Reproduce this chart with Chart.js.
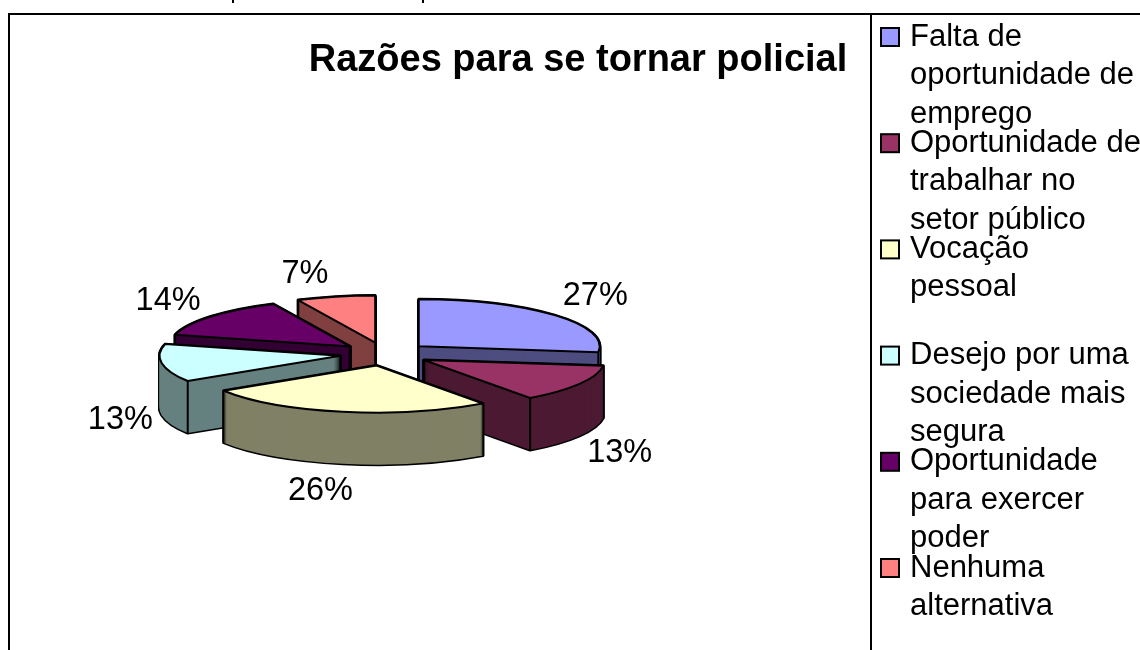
<!DOCTYPE html>
<html><head><meta charset="utf-8">
<style>html,body{margin:0;padding:0;background:#fff;overflow:hidden}#wrap{position:absolute;left:0;top:0;width:1140px;height:650px}</style>
<script src="https://cdn.jsdelivr.net/npm/chart.js@4"></script></head>
<body><div id="wrap"><canvas id="c" width="1140" height="650"></canvas></div>
<script>
const categories = [
  ["Falta de","oportunidade de","emprego"],
  ["Oportunidade de","trabalhar no","setor público"],
  ["Vocação","pessoal"],
  ["Desejo por uma","sociedade mais","segura"],
  ["Oportunidade","para exercer","poder"],
  ["Nenhuma","alternativa"]
];
const values = [27,13,26,13,14,7];
const topColors = ["#9999FF","#993366","#FFFFCC","#CCFFFF","#660066","#FF8080"];
const wallColors = ["#4D4D80","#4D1A33","#808066","#668080","#330033","#804040"];
const drawOrder = [5,4,3,0,1,2];
const titleText = "Razões para se tornar policial";

const CX=385, CY=354, SQ=0.26, DEPTH=52, EXPLODE=45, FONT='"Liberation Sans", Arial, sans-serif';
const labelNudge = [[4,0],[-2,2],[-13,-1],[7,0],[-5,3],[-20,6]];

function withUniformStroke(ctx, fn){
  const s = ctx.stroke;
  ctx.stroke = function(){ const t=this.getTransform(); this.resetTransform(); s.call(this); this.setTransform(t); };
  try{ fn(); } finally { delete ctx.stroke; }
}
const pie3d = {
  id:'pie3d',
  beforeDatasetsDraw(chart){
    const ctx=chart.ctx, meta=chart.getDatasetMeta(0);
    const ca=chart.chartArea, ox=(ca.left+ca.right)/2, oy=(ca.top+ca.bottom)/2;
    const drawAs=(arc,opts)=>{ const o=arc.options; arc.options=Object.assign({},o,opts); arc.draw(ctx); arc.options=o; };
    ctx.save();
    withUniformStroke(ctx,()=>{
      drawOrder.forEach(i=>{
        const arc=meta.data[i];
        const mid=(arc.startAngle+arc.endAngle)/2;
        const ex=Math.cos(mid)*EXPLODE, ey=Math.sin(mid)*EXPLODE*SQ;
        const place=(dy)=>{ ctx.setTransform(1,0,0,SQ,CX-ox+ex,CY+ey+dy-oy*SQ); };
        for(let d=DEPTH;d>=0;d-=1){ place(d); drawAs(arc,{backgroundColor:'#000',borderColor:'#000',borderWidth:3}); }
        for(let d=DEPTH;d>=0;d-=1){ place(d); drawAs(arc,{backgroundColor:wallColors[i],borderColor:wallColors[i],borderWidth:0}); }
        const edge=(x,y)=>{ ctx.setTransform(1,0,0,1,0,0);
          const px=x+CX-ox+ex, py=CY+ey+(y-oy)*SQ;
          ctx.beginPath(); ctx.moveTo(px,py); ctx.lineTo(px,py+DEPTH); ctx.lineWidth=2; ctx.strokeStyle='#000'; ctx.stroke(); };
        const R=arc.outerRadius;
        [[arc.startAngle,Math.sin(arc.startAngle-Math.PI/2)],[arc.endAngle,Math.sin(arc.endAngle+Math.PI/2)]].forEach(([a,n])=>{
          if(n>1e-6){ edge(arc.x,arc.y); edge(arc.x+Math.cos(a)*R,arc.y+Math.sin(a)*R); }
        });
        place(0); drawAs(arc,{});
      });
    });
    ctx.restore();
    ctx.save();
    ctx.font='32.5px '+FONT; ctx.fillStyle='#000'; ctx.textAlign='center'; ctx.textBaseline='middle';
    const total=values.reduce((a,b)=>a+b,0);
    meta.data.forEach((arc,i)=>{
      const mid=(arc.startAngle+arc.endAngle)/2, s=Math.sin(mid);
      const x=CX+Math.cos(mid)*(EXPLODE+230)+labelNudge[i][0];
      const y=CY+s*(EXPLODE*SQ+76)+(s>0?DEPTH:0)+labelNudge[i][1];
      ctx.fillText(Math.round(values[i]/total*100)+'%',x,y);
    });
    ctx.restore();
    return false;
  },
  beforeDatasetDraw(){ return false; },
  afterDraw(chart){
    const ctx=chart.ctx;
    ctx.save();
    ctx.strokeStyle='#000'; ctx.lineWidth=2;
    ctx.beginPath();
    ctx.moveTo(9,650); ctx.lineTo(9,14); ctx.lineTo(1140,14);
    ctx.moveTo(871,14); ctx.lineTo(871,650);
    ctx.moveTo(233,0); ctx.lineTo(233,3);
    ctx.moveTo(423,0); ctx.lineTo(423,3);
    ctx.stroke();
    ctx.font='31px '+FONT; ctx.textBaseline='middle'; ctx.textAlign='left';
    categories.forEach((lines,i)=>{
      const top=37+i*106.2;
      ctx.fillStyle=topColors[i]; ctx.lineWidth=2; ctx.strokeStyle='#000';
      ctx.fillRect(881,top-9,18,18); ctx.strokeRect(881,top-9,18,18);
      ctx.fillStyle='#000';
      lines.forEach((t,j)=>ctx.fillText(t,910,top+j*38.5));
    });
    ctx.restore();
  }
};
new Chart(document.getElementById('c'),{
  type:'pie',
  data:{labels:categories.map(l=>l.join(' ')),datasets:[{data:values,backgroundColor:topColors,borderColor:'#000',borderWidth:2,borderJoinStyle:'round',borderAlign:'center',offset:0}]},
  options:{responsive:false,animation:false,radius:181,
    layout:{padding:{left:16,right:0,top:0,bottom:0}},
    plugins:{legend:{display:false},tooltip:{enabled:false},
      title:{display:true,text:titleText,color:'#000',font:{family:FONT,size:38,weight:'bold'},padding:{top:38,bottom:10}}}
  },
  plugins:[pie3d]
});
</script></body></html>
